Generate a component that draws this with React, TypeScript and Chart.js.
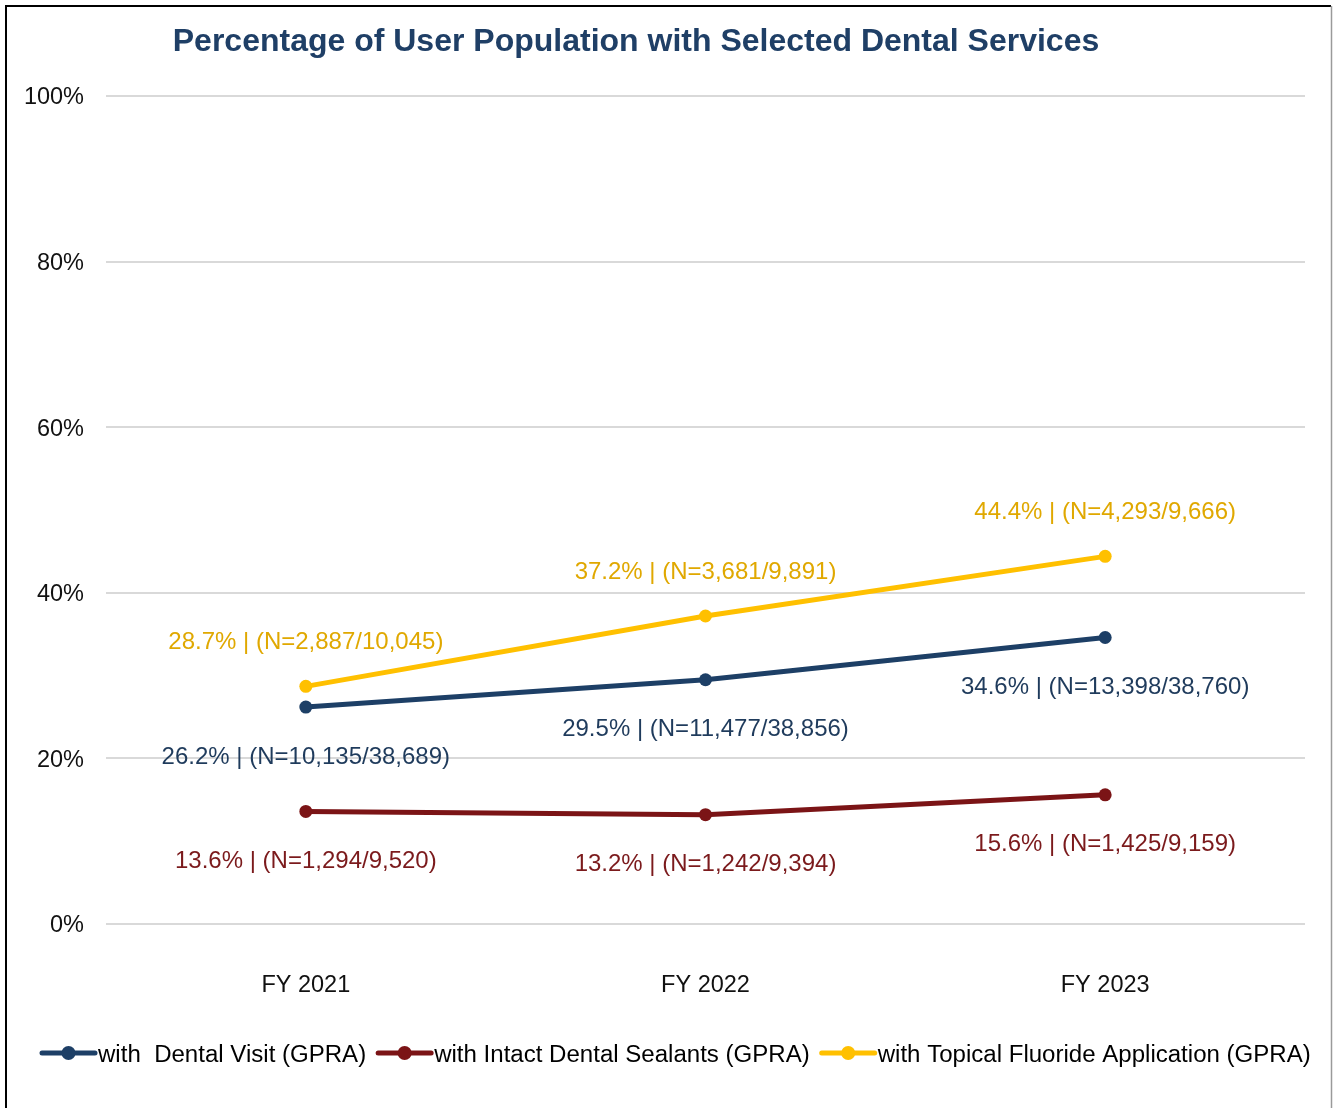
import React, { useEffect, useRef } from "react";
import { Chart, registerables } from "chart.js";

Chart.register(...registerables);

const TITLE = "Percentage of User Population with Selected Dental Services";
const categories = ["FY 2021", "FY 2022", "FY 2023"];
const seriesNames = [
  "with  Dental Visit (GPRA)",
  "with Intact Dental Sealants (GPRA)",
  "with Topical Fluoride Application (GPRA)",
];
const dentalVisit = [26.2, 29.5, 34.6];
const sealants = [13.6, 13.2, 15.6];
const fluoride = [28.7, 37.2, 44.4];
const dentalVisitN = ["10,135/38,689", "11,477/38,856", "13,398/38,760"];
const sealantsN = ["1,294/9,520", "1,242/9,394", "1,425/9,159"];
const fluorideN = ["2,887/10,045", "3,681/9,891", "4,293/9,666"];
const yTicks = [0, 20, 40, 60, 80, 100];

const lineColors = ["#1D3F66", "#7B1416", "#FFC000"];
const labelColors = ["#1F3B5C", "#7B1A1C", "#E0A800"];
const labelOffsets = [50, 50, -44];
const FONT = "'Liberation Sans', Arial, sans-serif";

export default function App() {
  const ref = useRef<HTMLCanvasElement | null>(null);

  useEffect(() => {
    if (!ref.current) return;
    const nLists = [dentalVisitN, sealantsN, fluorideN];

    const customPlugin = {
      id: "custom",
      beforeDraw(chart: any) {
        const c = chart.ctx;
        c.save();
        c.fillStyle = "#ffffff";
        c.fillRect(0, 0, chart.width, chart.height);
        c.restore();
      },
      afterDraw(chart: any) {
        const c = chart.ctx;
        c.save();
        // border
        c.strokeStyle = "#000000";
        c.lineWidth = 2;
        c.beginPath();
        c.moveTo(6, chart.height);
        c.lineTo(6, 6);
        c.lineTo(1331, 6);
        c.stroke();
        c.strokeStyle = "#9a9a9a";
        c.lineWidth = 1.5;
        c.beginPath();
        c.moveTo(1331.5, 6);
        c.lineTo(1331.5, chart.height);
        c.stroke();

        // title
        c.fillStyle = "#1F3F66";
        c.font = `bold 32px ${FONT}`;
        c.textAlign = "center";
        c.textBaseline = "middle";
        c.fillText(TITLE, 636, 42);

        // data labels
        c.font = `24px ${FONT}`;
        chart.data.datasets.forEach((ds: any, di: number) => {
          const meta = chart.getDatasetMeta(di);
          meta.data.forEach((pt: any, i: number) => {
            c.fillStyle = labelColors[di];
            c.fillText(
              `${ds.data[i].toFixed(1)}% | (N=${nLists[di][i]})`,
              pt.x,
              pt.y + labelOffsets[di]
            );
          });
        });

        // legend
        let x = 40;
        const y = 1053;
        c.textAlign = "left";
        c.font = `24.05px ${FONT}`;
        seriesNames.forEach((name, i) => {
          c.strokeStyle = lineColors[i];
          c.lineWidth = 5;
          c.lineCap = "round";
          c.beginPath();
          c.moveTo(x + 2, y);
          c.lineTo(x + 55, y);
          c.stroke();
          c.fillStyle = lineColors[i];
          c.beginPath();
          c.arc(x + 28.5, y, 7, 0, Math.PI * 2);
          c.fill();
          c.fillStyle = "#000000";
          c.fillText(name, x + 58, y + 2);
          x += 58 + c.measureText(name).width + 10;
        });
        c.restore();
      },
    };

    const mk = (label: string, data: number[], i: number) => ({
      label,
      data,
      borderColor: lineColors[i],
      backgroundColor: lineColors[i],
      pointBackgroundColor: lineColors[i],
      pointBorderColor: lineColors[i],
      borderWidth: 5,
      pointRadius: 6.5,
      pointBorderWidth: 0,
      tension: 0,
      fill: false,
    });

    const chart = new Chart(ref.current, {
      type: "line",
      data: {
        labels: categories,
        datasets: [
          mk(seriesNames[0], dentalVisit, 0),
          mk(seriesNames[1], sealants, 1),
          mk(seriesNames[2], fluoride, 2),
        ],
      },
      options: {
        animation: false,
        responsive: false,
        maintainAspectRatio: false,
        layout: { padding: { top: 96, right: 28, left: 0, bottom: 0 } },
        plugins: {
          legend: { display: false },
          title: { display: false },
          tooltip: { enabled: false },
        },
        scales: {
          x: {
            offset: true,
            grid: { display: false, drawTicks: false },
            border: { display: false },
            ticks: {
              color: "#111111",
              font: { family: FONT, size: 23.5 },
              padding: 47,
            },
            afterFit(scale: any) {
              scale.height = 184;
            },
          },
          y: {
            min: 0,
            max: 100,
            afterBuildTicks(scale: any) {
              scale.ticks = yTicks.map((v) => ({ value: v }));
            },
            grid: { color: "#D9D9D9", lineWidth: 2, drawTicks: false },
            border: { display: false },
            ticks: {
              color: "#111111",
              font: { family: FONT, size: 23.5 },
              padding: 22,
              labelOffset: 2,
              callback: (v: any) => `${v}%`,
            },
            afterFit(scale: any) {
              scale.width = 106;
            },
          },
        },
      },
      plugins: [customPlugin],
    });
    return () => chart.destroy();
  }, []);

  return (
    <div style={{ position: "absolute", left: 0, top: 0, width: 1333, height: 1108 }}>
      <canvas ref={ref} width={1333} height={1108} style={{ display: "block" }} />
    </div>
  );
}
